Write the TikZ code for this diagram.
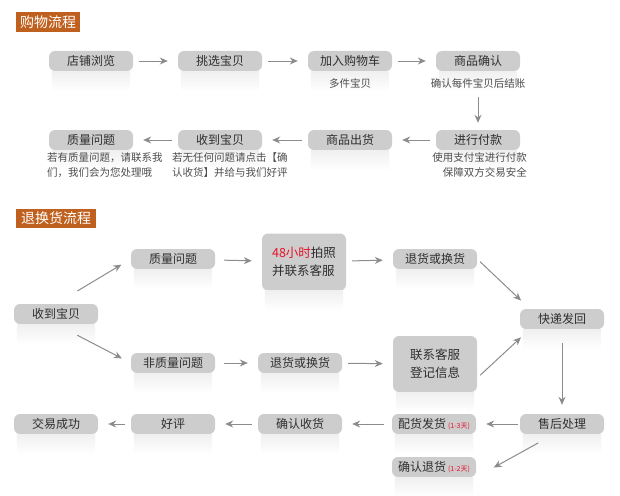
\documentclass[tikz,border=0pt]{standalone}
\usepackage{fontspec}
\newfontfamily\cjk{Noto Sans CJK SC}
\usetikzlibrary{arrows.meta}
\definecolor{boxgray}{HTML}{CDCDCD}
\definecolor{textgray}{HTML}{2E2E2E}
\definecolor{arrowgray}{HTML}{8C8C8C}
\definecolor{titleorange}{HTML}{C0601E}
\definecolor{notered}{HTML}{E8102A}

\tikzset{
	box/.style={rounded corners=6pt, fill=boxgray, text=textgray, minimum width=84pt,
		minimum height=20pt, inner sep=0pt, font=\cjk\fontsize{12}{14}\selectfont},
	bigbox/.style={box, minimum height=57pt, align=left, font=\cjk\fontsize{12.5}{18}\selectfont},
	title/.style={fill=titleorange, text=white, inner sep=0pt, minimum height=20pt,
		font=\cjk\fontsize{14}{16}\selectfont},
	note/.style={text=textgray!85, inner sep=0pt, font=\cjk\fontsize{10.5}{15}\selectfont},
	arr/.style={draw=arrowgray, line width=1pt, -{Stealth[length=8pt,width=7pt]},
		shorten <=6pt, shorten >=10pt}
}

\begin{document}
\begin{tikzpicture}[x=1pt,y=-1pt]
	\useasboundingbox (0,0) rectangle (620,495);
	% shopping flow
	\node[title, minimum width=64pt] (title1) at (48,22) {购物流程};
	\node[box] (browse) at (91,61) {店铺浏览};
	\node[box] (pick) at (220,61) {挑选宝贝};
	\node[box] (cart) at (350,61) {加入购物车};
	\node[box] (check) at (478,61) {商品确认};
	\node[box] (quality) at (91,140) {质量问题};
	\node[box] (recv) at (220,140) {收到宝贝};
	\node[box] (ship) at (350,140) {商品出货};
	\node[box] (pay) at (478,140) {进行付款};
	% return flow
	\node[title, minimum width=80pt, minimum height=19pt] (title2) at (56,218.5) {退换货流程};
	\node[box] (get) at (56,314) {收到宝贝};
	\node[box] (qual) at (173,259) {质量问题};
	\node[bigbox] (photo) at (304,262) {{\color{notered}48小时}拍照\\并联系客服};
	\node[box] (ret1) at (435,259) {退货或换货};
	\node[box] (back) at (562,319) {快递发回};
	\node[box] (nonqual) at (173,363) {非质量问题};
	\node[box] (ret2) at (300,363) {退货或换货};
	\node[bigbox, minimum height=56pt, align=center] (contact) at (435,364) {联系客服\\登记信息};
	\node[box] (after) at (562,424) {售后处理};
	\node[box] (deliver) at (434,424) {配货发货\,{\color{notered}\fontsize{7}{7}\selectfont(1-3天)}};
	\node[box] (take) at (300,424) {确认收货};
	\node[box] (praise) at (173,424) {好评};
	\node[box] (done) at (56,424) {交易成功};
	\node[box] (refund) at (434,467) {确认退货\,{\color{notered}\fontsize{7}{7}\selectfont(1-2天)}};

	% faded reflections under the boxes
	\foreach \b in {browse,pick,cart,check,quality,recv,ship,pay,get,qual,photo,ret1,back,
		nonqual,ret2,contact,after,deliver,take,praise,done,refund}
		\fill[top color=gray!12, bottom color=white] ([xshift=3pt]\b.south west) rectangle ([xshift=-3pt,yshift=-20pt]\b.south east);

	% notes
	\node[note] (cartnote) at (350,83) {多件宝贝};
	\node[note] (checknote) at (478,83) {确认每件宝贝后结账};
	\node[note, align=right, anchor=north east] (paynote) at (527,152) {使用支付宝进行付款\\保障双方交易安全};
	\node[note, align=left, anchor=north west] (qualnote) at (47,152) {若有质量问题，请联系我\\们，我们会为您处理哦};
	\node[note, align=left, anchor=north west] (recvnote) at (172,152) {若无任何问题请点击【确\\认收货】并给与我们好评};

	% arrows of the shopping flow
	\draw[arr] (browse) -- (pick);
	\draw[arr] (pick) -- (cart);
	\draw[arr] (cart) -- (check);
	\draw[arr, shorten <=26pt, shorten >=7pt] (check) -- (pay);
	\draw[arr] (pay) -- (ship);
	\draw[arr] (ship) -- (recv);
	\draw[arr] (recv) -- (quality);

	% arrows of the return flow
	\draw[arr, shorten <=25pt, shorten >=11pt] (get.north) -- (qual.west);
	\draw[arr, shorten <=24pt, shorten >=10pt] (get.south) -- (nonqual.west);
	\draw[arr, shorten <=9pt] (qual) -- (photo);
	\draw[arr] (photo) -- (ret1);
	\draw[arr, shorten <=4pt, shorten >=12pt] (ret1.east) -- ([xshift=10pt]back.north west);
	\draw[arr, shorten <=9pt] (nonqual) -- (ret2);
	\draw[arr] (ret2) -- (contact);
	\draw[arr, shorten <=4pt, shorten >=12pt] ([yshift=-14pt]contact.east) -- ([xshift=10pt]back.south west);
	\draw[arr, shorten <=14pt, shorten >=9pt] (back) -- (after);
	\draw[arr, shorten <=2pt] (after) -- (deliver);
	\draw[arr, shorten <=8pt] (deliver) -- (take);
	\draw[arr] (take) -- (praise);
	\draw[arr] (praise) -- (done);
	\draw[arr, shorten <=18pt, shorten >=20pt] ([xshift=-8pt]after.south) -- (refund.south east);
\end{tikzpicture}
\end{document}
